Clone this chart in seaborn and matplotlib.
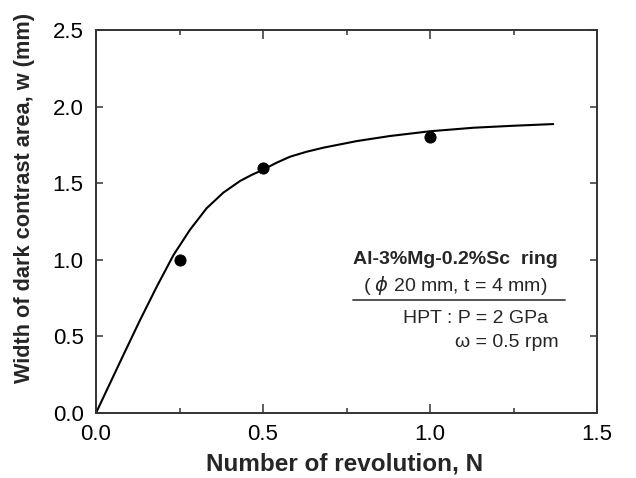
import numpy as np
import pandas as pd
import matplotlib
matplotlib.use("Agg")
import matplotlib.pyplot as plt
import seaborn as sns
from matplotlib.ticker import MultipleLocator

# --- data ---
n_meas = [0.25, 0.5, 1.0]
w_meas = [1.0, 1.6, 1.8]

# fitted curve, read point by point
n_fit = [0.0, 0.042, 0.082, 0.132, 0.182, 0.232, 0.281, 0.331, 0.381, 0.431,
         0.465, 0.498, 0.54, 0.581, 0.63, 0.681, 0.781, 0.88, 1.0, 1.13, 1.25, 1.369]
w_fit = [0.0, 0.194, 0.379, 0.607, 0.825, 1.031, 1.195, 1.336, 1.438, 1.514,
         1.553, 1.586, 1.633, 1.673, 1.705, 1.732, 1.775, 1.808, 1.839, 1.862, 1.875, 1.886]

meas = pd.DataFrame({"N": n_meas, "w": w_meas})
fit = pd.DataFrame({"N": n_fit, "w": w_fit})

sns.set_style("ticks")
plt.rcParams["font.family"] = ["Liberation Sans", "DejaVu Sans"]

fig, ax = plt.subplots(figsize=(6.36, 4.78), dpi=100)
fig.subplots_adjust(left=96/636, right=597/636, top=1-30/478, bottom=1-413/478)

sns.lineplot(data=fit, x="N", y="w", color="black", linewidth=1.5, ax=ax)
sns.scatterplot(data=meas, x="N", y="w", color="black", s=65, edgecolor="black", ax=ax, zorder=3)

ax.set_xlim(0, 1.5)
ax.set_ylim(0, 2.5)
ax.xaxis.set_major_locator(MultipleLocator(0.5))
ax.xaxis.set_minor_locator(MultipleLocator(0.25))
ax.yaxis.set_major_locator(MultipleLocator(0.5))
ax.tick_params(which="both", direction="in", top=True, right=True, color="#333333",
               width=1.1, labelsize=16, labelcolor="black")
ax.tick_params(axis="x", which="major", length=6.5, pad=8)
ax.tick_params(axis="x", which="minor", length=3.5)
ax.tick_params(axis="y", which="major", length=5, pad=9)
for s in ax.spines.values():
    s.set_linewidth(1.4)
    s.set_color("#333333")

ax.set_xlabel("Number of revolution, N", fontsize=17.5, fontweight="bold")
ax.set_ylabel("Width of dark contrast area, w (mm)", fontsize=15.7, fontweight="bold")
ax.xaxis.set_label_coords(0.497, -0.103)
ax.yaxis.set_label_coords(-0.122, 0.561)

# annotation block
ax.text(1.075, 1.005, "Al-3%Mg-0.2%Sc  ring", fontsize=14, fontweight="bold",
        ha="center", va="center")
ax.text(1.075, 0.835, "( $\\phi$ 20 mm, t = 4 mm)", fontsize=14, ha="center", va="center")
ax.plot([0.77, 1.404], [0.738, 0.738], color="#444444", linewidth=1.3)
ax.text(1.135, 0.62, "HPT : P = 2 GPa", fontsize=14, ha="center", va="center")
ax.text(1.23, 0.457, "\u03c9 = 0.5 rpm", fontsize=14, ha="center", va="center")

fig.savefig("out.png", dpi=100)
